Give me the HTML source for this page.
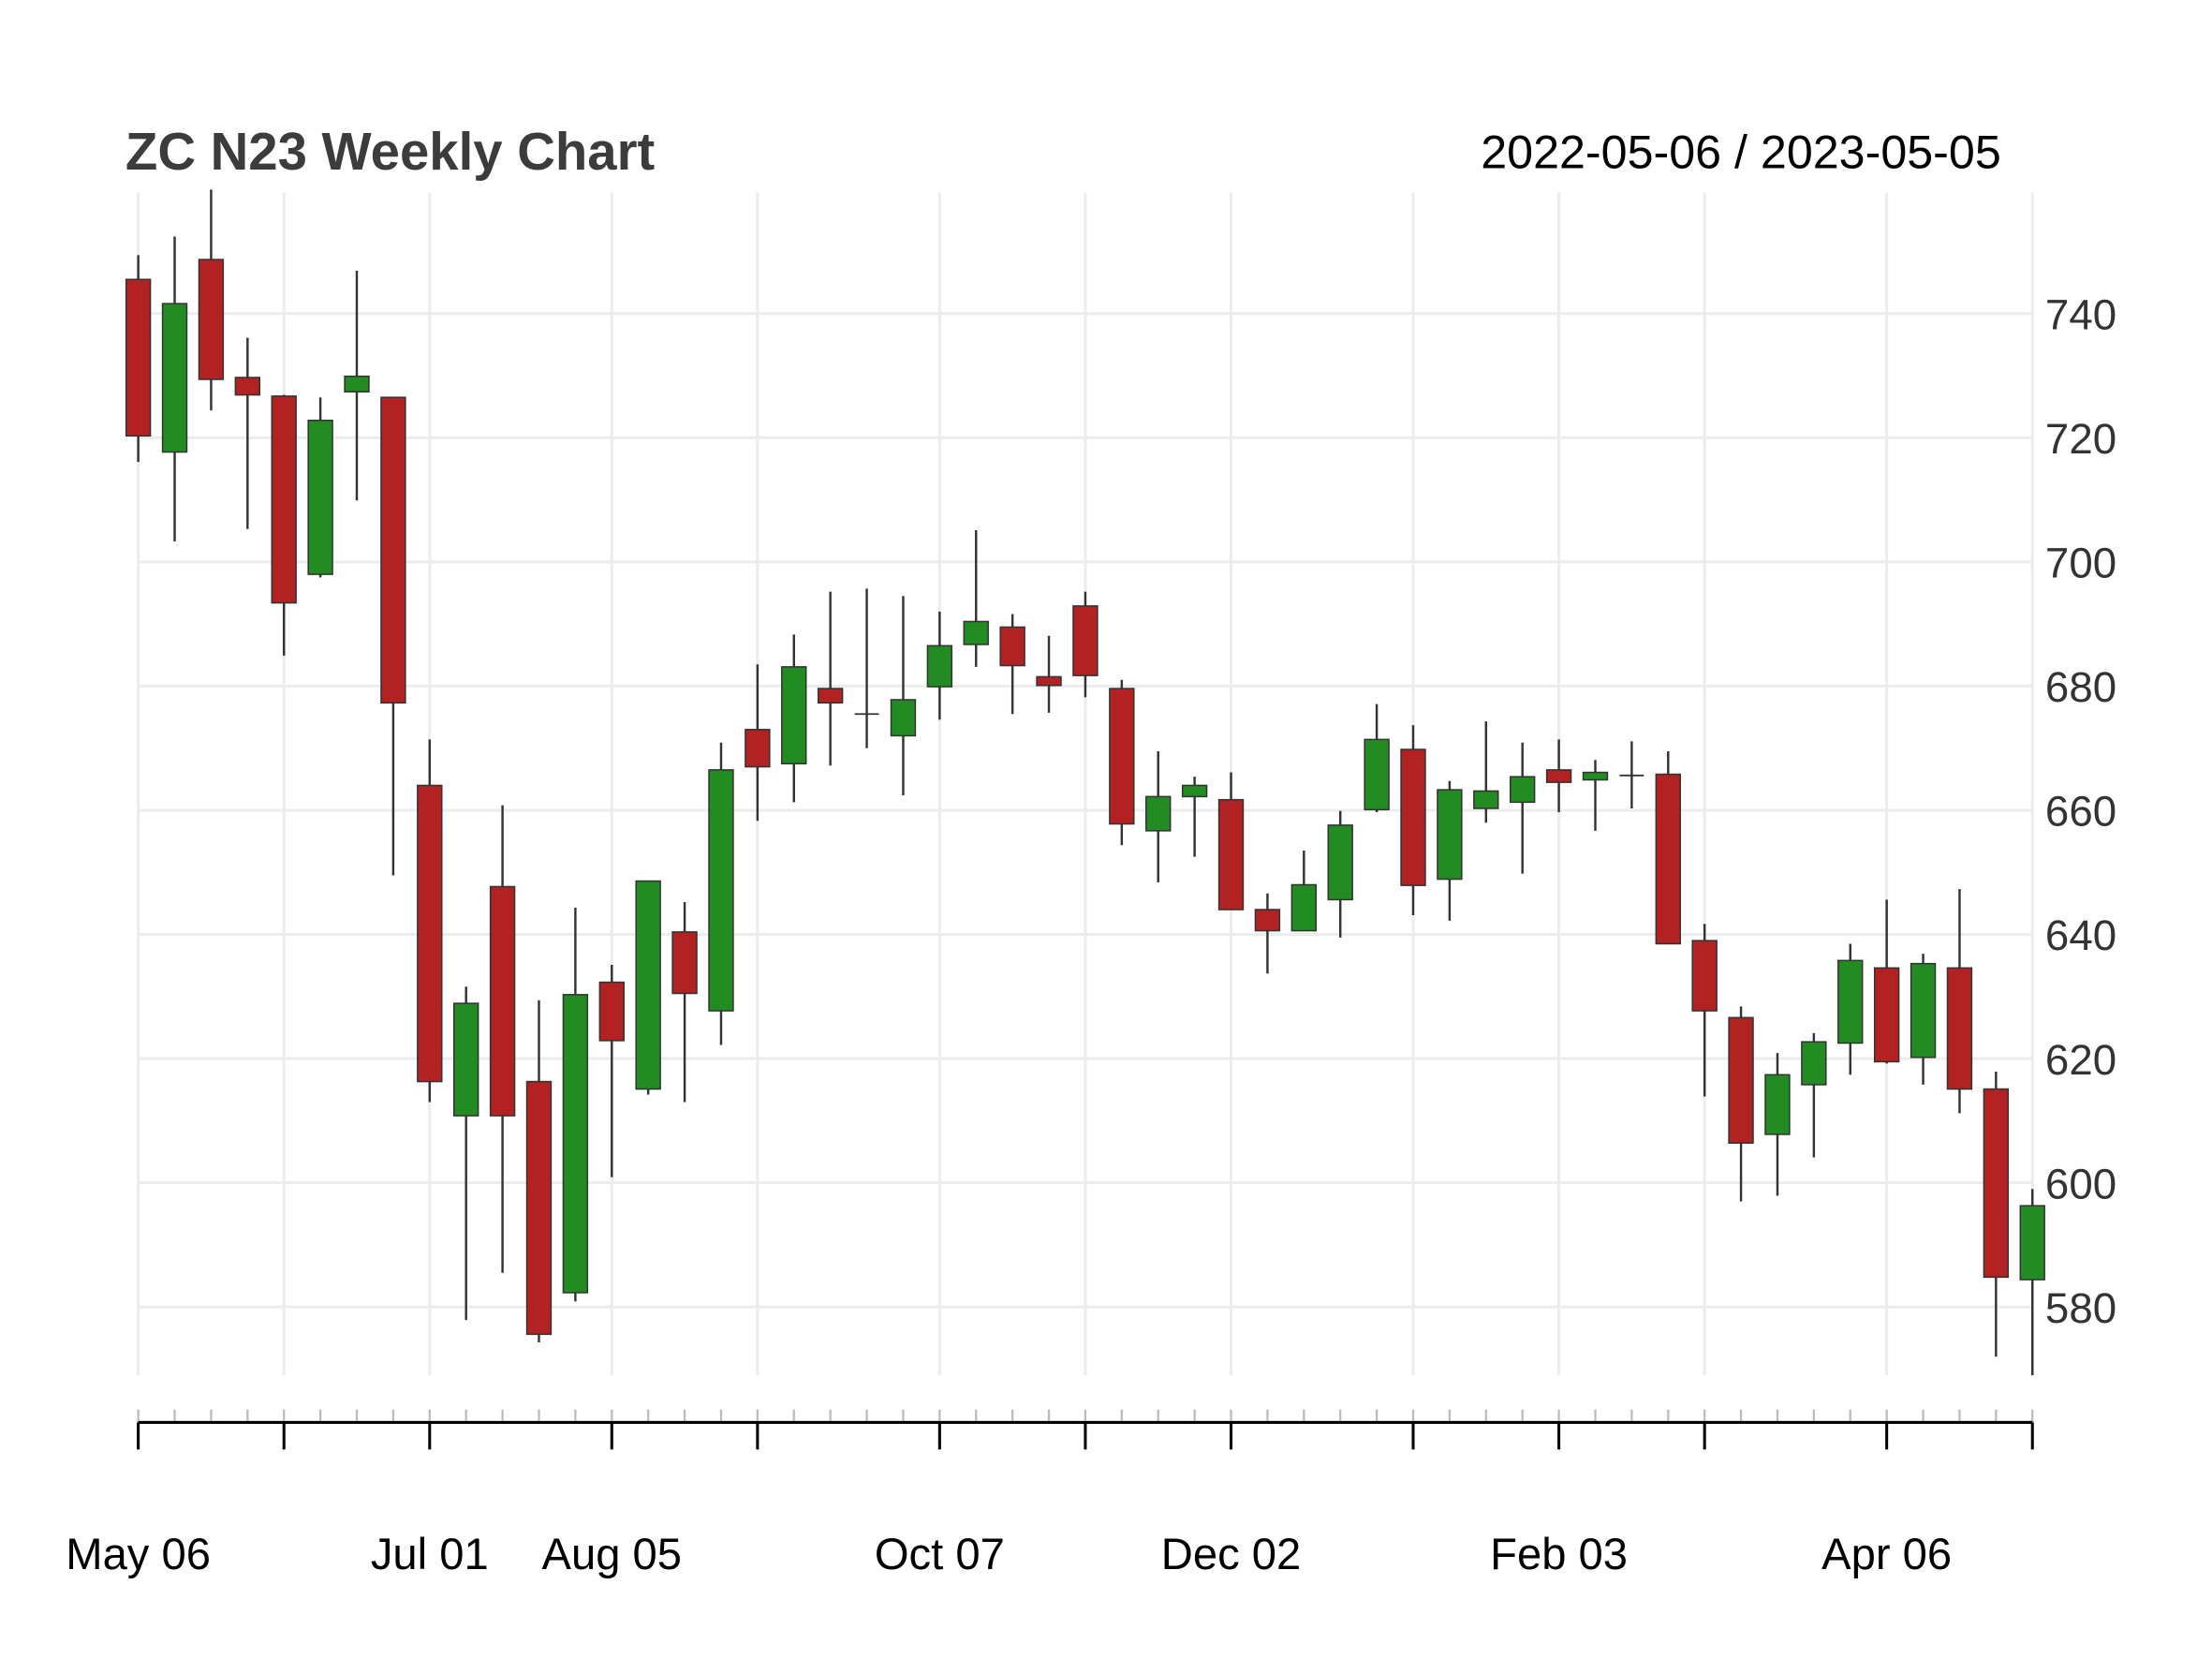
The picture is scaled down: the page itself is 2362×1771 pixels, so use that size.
<!DOCTYPE html>
<html><head><meta charset="utf-8"><style>
html,body{margin:0;padding:0;background:#fff;}
svg{display:block;font-family:"Liberation Sans",sans-serif;}
</style></head><body>
<svg id="chart" width="2362" height="1771" viewBox="0 0 1552 1164" preserveAspectRatio="none" xmlns="http://www.w3.org/2000/svg">
<text x="88" y="119" font-size="37" font-weight="bold" fill="#3c3c3c">ZC N23 Weekly Chart</text>
<text x="1404" y="118" font-size="33" fill="#000" text-anchor="end">2022-05-06 / 2023-05-05</text>
<g id="grid"></g>
<g id="candles"></g>
<g id="axes"></g>
</svg>
<script>
const opens  = [745.5,717.7,748.7,729.7,726.7,698.0,727.4,726.5,664.0,610.8,647.7,616.3,582.3,632.3,615.1,640.4,627.7,673.0,667.5,679.6,675.5,672.0,679.9,686.7,689.5,681.5,692.9,679.6,656.7,662.2,661.7,644.0,640.6,645.6,660.1,669.8,648.9,660.3,661.3,666.5,664.9,665.6,665.8,639.0,626.6,607.8,615.8,622.5,634.6,620.2,634.6,615.1,584.4];
const highs  = [749.4,752.4,760.0,736.1,726.9,726.5,746.9,726.5,671.4,631.6,660.8,629.4,644.3,635.1,648.6,645.2,670.9,683.5,688.3,695.2,695.7,694.5,692.0,705.1,691.6,688.1,695.2,681.0,669.5,665.4,666.1,646.6,653.5,659.9,677.1,673.7,664.7,674.3,670.9,671.4,668.1,671.1,669.5,641.7,628.4,620.9,624.1,638.5,645.6,636.9,647.3,617.9,599.0];
const lows   = [716.1,703.3,724.4,705.3,684.9,697.5,709.9,649.5,613.0,577.9,585.5,574.3,580.9,600.9,614.2,613.0,622.2,658.3,661.3,667.2,670.0,662.4,674.6,683.1,675.5,675.7,678.2,654.4,648.4,652.5,644.0,633.7,640.6,639.5,659.7,643.1,642.2,658.0,649.8,659.7,656.7,660.3,638.5,613.9,597.0,597.9,604.1,617.4,619.2,615.8,611.2,572.0,569.0];
const closes = [720.3,741.6,729.4,726.9,693.4,722.8,729.9,677.3,616.3,628.9,610.8,575.6,630.3,622.9,648.6,630.5,666.5,667.0,683.1,677.3,675.5,677.8,686.5,690.4,683.3,680.1,681.7,657.8,662.2,664.0,644.0,640.6,648.0,657.6,671.4,647.9,663.3,663.1,665.4,664.5,666.1,665.6,638.5,627.7,606.4,617.4,622.7,635.8,619.5,635.3,615.1,584.8,596.3];
const yTicks = [580,600,620,640,660,680,700,720,740];
const majorIdx = [0,4,8,13,17,22,26,30,35,39,43,48,52];
const xLabelIdx = [0,8,13,22,30,39,48];
const xLabels = ["May 06","Jul 01","Aug 05","Oct 07","Dec 02","Feb 03","Apr 06"];

const NS="http://www.w3.org/2000/svg";
const X0=97, X1=1426, N=opens.length;
const xs=i=>X0+i*(X1-X0)/(N-1);
const ys=p=>220+(740-p)*(697/160);
function mk(tag,attrs,parent){const e=document.createElementNS(NS,tag);for(const k in attrs)e.setAttribute(k,attrs[k]);parent.appendChild(e);return e;}
const grid=document.getElementById('grid'), cg=document.getElementById('candles'), ax=document.getElementById('axes');

yTicks.forEach(v=>{
  const l=mk('line',{x1:X0,x2:X1,y1:ys(v),y2:ys(v),stroke:'#ececec','stroke-width':2},grid);
  
  
  const t=mk('text',{x:1435,y:ys(v)+11,'font-size':30,fill:'#333'},ax);
  
  
  t.textContent=v;
});
majorIdx.forEach(i=>{
  const l=mk('line',{x1:xs(i),x2:xs(i),y1:135,y2:965,stroke:'#ececec','stroke-width':2},grid);
  
  
  const t=mk('line',{x1:xs(i),x2:xs(i),y1:998,y2:1017,stroke:'#000','stroke-width':2},ax);
  
  
});
for(let i=0;i<N;i++){
  const t=mk('line',{x1:xs(i),x2:xs(i),y1:989,y2:998,stroke:'#bbb','stroke-width':1.5},ax);
  
  
}
const axl=mk('line',{x1:X0,x2:X1,y1:998,y2:998,stroke:'#000','stroke-width':2},ax);


xLabelIdx.forEach((i,k)=>{
  const t=mk('text',{x:xs(i),y:1101,'font-size':31,fill:'#000','text-anchor':'middle'},ax);
  
  
  t.textContent=xLabels[k];
});
const W=17;
for(let i=0;i<N;i++){
  const g=mk('g',{},cg);
  
  
  const x=xs(i);
  mk('line',{x1:x,x2:x,y1:Math.max(ys(highs[i]),133),y2:ys(lows[i]),stroke:'#333','stroke-width':1.6},g);
  const top=ys(Math.max(opens[i],closes[i])), bot=ys(Math.min(opens[i],closes[i]));
  const up=closes[i]>=opens[i];
  if(bot-top<1){
    mk('line',{x1:x-W/2,x2:x+W/2,y1:top,y2:top,stroke:'#333','stroke-width':1.2},g);
  } else {
    mk('rect',{x:x-W/2,y:top,width:W,height:bot-top,fill:up?'#228B22':'#B22222',stroke:'#333','stroke-width':1},g);
  }
}
</script>
</body></html>
